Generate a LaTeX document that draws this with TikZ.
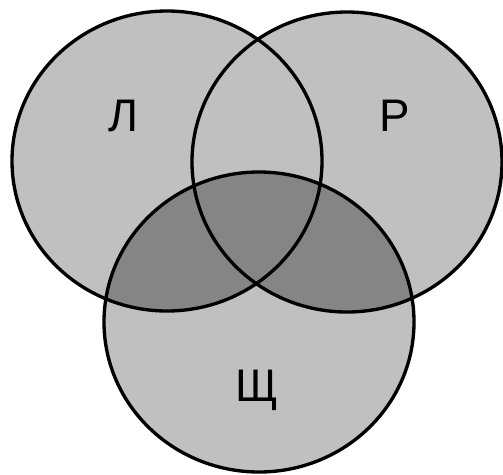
\documentclass[tikz,border=0pt]{standalone}
\usepackage{fontspec}
\setmainfont{Liberation Sans}
\definecolor{setfill}{HTML}{C0C0C0}
\definecolor{overlap}{HTML}{858585}

\begin{document}
\begin{tikzpicture}[x=0.02cm, y=-0.02cm,
    rr/.style={x radius=155, y radius=150},
    edge/.style={line width=1.9pt},
    lbl/.style={font=\fontsize{26}{30}\selectfont}]
        \useasboundingbox (0,0) rectangle (503,474);
        \coordinate (cL) at (167,161);
        \coordinate (cR) at (347,162);
        \coordinate (cS) at (259,322);
        % the three sets
        \fill[setfill] (cL) ellipse [rr];
        \fill[setfill] (cR) ellipse [rr];
        \fill[setfill] (cS) ellipse [rr];
        \begin{scope}
            \clip (cS) ellipse [rr];
            \fill[overlap] (cL) ellipse [rr];
            \fill[overlap] (cR) ellipse [rr];
        \end{scope}
        \draw[edge] (cL) ellipse [rr];
        \draw[edge] (cR) ellipse [rr];
        \draw[edge] (cS) ellipse [rr];
        \node[lbl] (nL) at (123,116) {Л};
        \node[lbl] (nR) at (395,116) {Р};
        \node[lbl] (nS) at (257,390) {Щ};
    \end{tikzpicture}
\end{document}
